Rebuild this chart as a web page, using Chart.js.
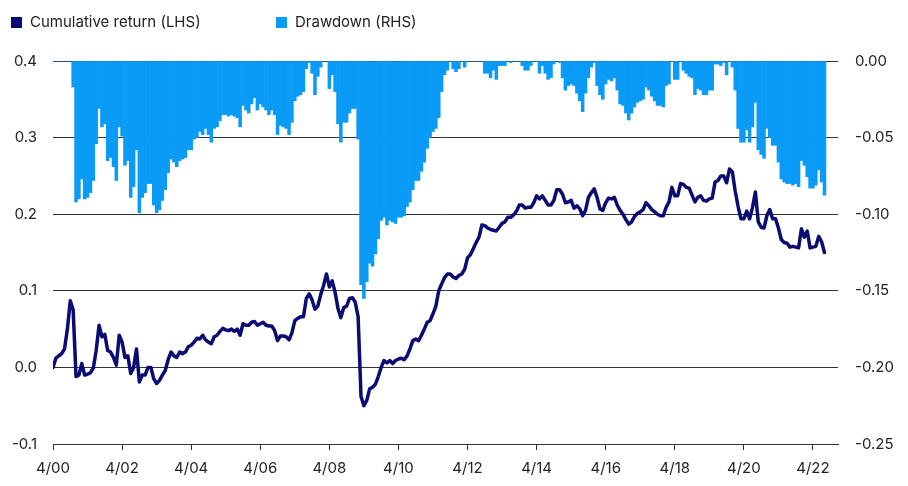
<!DOCTYPE html>
<html><head><meta charset="utf-8">
<script src="https://cdn.jsdelivr.net/npm/chart.js@4.4.1/dist/chart.umd.min.js"></script>
<style>
body{margin:0;background:#fff;}
#wrap{position:relative;width:908px;height:486px;}
#legend{position:absolute;left:0;top:0;width:908px;height:40px;font-family:Inter, "Open Sans", sans-serif;font-size:15px;color:#222;}
.item{position:absolute;top:13px;height:18px;line-height:18px;display:flex;align-items:center;white-space:nowrap;}
.sw{width:11px;height:11px;margin-right:8px;}
</style></head>
<body><div id="wrap"><canvas id="c" width="908" height="486"></canvas><div id="legend"></div></div>
<script>
const seriesNames = ['Cumulative return (LHS)', 'Drawdown (RHS)'];
const seriesColors = ['#0a0c72', '#0a9bf7'];
const xTickLabels = ['4/00','4/02','4/04','4/06','4/08','4/10','4/12','4/14','4/16','4/18','4/20','4/22'];
const leftTicks = [-0.1, 0, 0.1, 0.2, 0.3, 0.4];
const rightTicks = [-0.25, -0.2, -0.15, -0.1, -0.05, 0];

// monthly, April 2000 onwards
const cumReturn = [
 0.000,0.012,0.015,0.018,0.024,0.050,0.087,0.075,-0.012,-0.010,
 0.005,-0.010,-0.009,-0.007,-0.001,0.022,0.055,0.040,0.043,0.022,
 0.020,0.013,0.003,0.042,0.033,0.013,0.015,-0.008,0.000,0.024,
 -0.019,-0.010,-0.010,0.000,0.000,-0.015,-0.021,-0.017,-0.010,-0.004,
 0.010,0.020,0.015,0.013,0.020,0.018,0.020,0.027,0.029,0.033,
 0.038,0.037,0.042,0.036,0.033,0.031,0.040,0.042,0.047,0.051,
 0.049,0.048,0.050,0.047,0.050,0.042,0.057,0.055,0.055,0.059,
 0.060,0.055,0.057,0.059,0.055,0.054,0.054,0.048,0.035,0.041,
 0.041,0.040,0.036,0.045,0.061,0.064,0.066,0.066,0.090,0.096,
 0.088,0.076,0.080,0.095,0.107,0.122,0.105,0.113,0.098,0.077,
 0.065,0.078,0.080,0.090,0.091,0.085,0.066,-0.038,-0.050,-0.043,
 -0.028,-0.026,-0.022,-0.012,0.000,0.009,0.006,0.009,0.005,0.009,
 0.011,0.012,0.010,0.015,0.024,0.035,0.037,0.035,0.042,0.050,
 0.059,0.061,0.070,0.080,0.100,0.109,0.117,0.122,0.122,0.118,
 0.116,0.120,0.122,0.128,0.143,0.147,0.155,0.163,0.170,0.186,
 0.185,0.182,0.180,0.179,0.178,0.183,0.188,0.190,0.196,0.196,
 0.199,0.204,0.212,0.212,0.208,0.209,0.209,0.215,0.224,0.220,
 0.224,0.218,0.212,0.212,0.218,0.232,0.232,0.226,0.215,0.216,
 0.218,0.208,0.211,0.207,0.198,0.205,0.222,0.228,0.233,0.222,
 0.207,0.205,0.215,0.221,0.220,0.222,0.212,0.205,0.200,0.193,
 0.187,0.190,0.197,0.201,0.203,0.206,0.215,0.211,0.206,0.203,
 0.200,0.198,0.198,0.209,0.216,0.235,0.224,0.224,0.240,0.239,
 0.235,0.234,0.225,0.216,0.222,0.224,0.218,0.217,0.220,0.221,
 0.242,0.244,0.250,0.250,0.241,0.259,0.255,0.230,0.210,0.194,
 0.194,0.204,0.194,0.209,0.229,0.190,0.183,0.182,0.198,0.206,
 0.194,0.194,0.182,0.167,0.163,0.162,0.157,0.158,0.157,0.156,
 0.181,0.170,0.178,0.156,0.157,0.158,0.171,0.164,0.150
];

const drawdown = [
 0,0,0,0,0,0,0,-0.017,-0.092,-0.090,
 -0.077,-0.090,-0.089,-0.086,-0.078,-0.054,-0.031,-0.043,-0.041,-0.065,
 -0.063,-0.069,-0.078,-0.043,-0.049,-0.068,-0.065,-0.089,-0.082,-0.058,
 -0.099,-0.089,-0.086,-0.080,-0.080,-0.094,-0.099,-0.097,-0.091,-0.084,
 -0.073,-0.064,-0.066,-0.069,-0.065,-0.064,-0.063,-0.058,-0.058,-0.051,
 -0.050,-0.046,-0.048,-0.044,-0.048,-0.053,-0.044,-0.043,-0.039,-0.035,
 -0.035,-0.036,-0.035,-0.036,-0.037,-0.043,-0.029,-0.032,-0.034,-0.028,
 -0.024,-0.032,-0.028,-0.030,-0.032,-0.035,-0.032,-0.035,-0.048,-0.042,
 -0.043,-0.044,-0.048,-0.040,-0.026,-0.023,-0.022,-0.020,-0.005,-0.001,
 -0.008,-0.022,-0.010,-0.004,0,0,-0.018,-0.009,-0.020,-0.041,
 -0.053,-0.040,-0.040,-0.034,-0.031,-0.031,-0.051,-0.146,-0.155,-0.144,
 -0.132,-0.134,-0.126,-0.116,-0.104,-0.102,-0.107,-0.104,-0.105,-0.106,
 -0.102,-0.102,-0.101,-0.095,-0.092,-0.084,-0.078,-0.078,-0.072,-0.066,
 -0.057,-0.050,-0.046,-0.044,-0.037,-0.020,-0.009,-0.006,0,-0.005,
 -0.007,-0.005,0,-0.004,0,0,0,0,0,0,
 -0.008,-0.008,-0.011,-0.006,-0.012,-0.003,-0.003,-0.003,0,-0.001,
 0,0,0,-0.003,-0.006,-0.006,-0.003,0,0,-0.008,
 -0.003,-0.008,-0.012,-0.011,-0.002,0,-0.001,-0.011,-0.019,-0.016,
 -0.015,-0.016,-0.021,-0.026,-0.033,-0.021,-0.011,-0.004,-0.001,-0.016,
 -0.022,-0.025,-0.015,-0.012,-0.013,-0.011,-0.019,-0.028,-0.029,-0.034,
 -0.0385,-0.034,-0.030,-0.027,-0.026,-0.025,-0.017,-0.019,-0.023,-0.026,
 -0.029,-0.029,-0.030,-0.016,-0.015,0,-0.012,-0.012,0,-0.006,
 -0.008,-0.010,-0.011,-0.022,-0.018,-0.019,-0.022,-0.022,-0.019,-0.019,
 -0.002,-0.002,-0.003,-0.001,-0.009,0,-0.004,-0.019,-0.044,-0.053,
 -0.053,-0.045,-0.053,-0.043,-0.027,-0.058,-0.061,-0.0635,-0.044,-0.050,
 -0.055,-0.055,-0.066,-0.077,-0.079,-0.080,-0.080,-0.081,-0.080,-0.082,
 -0.065,-0.068,-0.0755,-0.083,-0.083,-0.081,-0.071,-0.079,-0.0875
];

// legend (HTML)
const legendPos = [11, 276];
const lg = document.getElementById('legend');
seriesNames.forEach((n, i) => {
  const d = document.createElement('div');
  d.className = 'item';
  d.style.left = legendPos[i] + 'px';
  d.innerHTML = '<span class="sw" style="background:' + seriesColors[i] + '"></span><span>' + n + '</span>';
  lg.appendChild(d);
});

const tickFont = { family: 'Inter, "Open Sans", sans-serif', size: 15 };
const textColor = '#222';
const gridColor = '#333';

new Chart(document.getElementById('c'), {
  type: 'bar',
  data: {
    datasets: [
      {
        type: 'line',
        label: seriesNames[0],
        data: cumReturn.map((v, i) => ({ x: i, y: v })),
        yAxisID: 'y',
        borderColor: seriesColors[0],
        borderWidth: 3.5,
        pointRadius: 0,
        tension: 0,
        borderJoinStyle: 'round',
        borderCapStyle: 'round',
        order: 0
      },
      {
        type: 'bar',
        label: seriesNames[1],
        data: drawdown.map((v, i) => ({ x: i, y: v })),
        yAxisID: 'y1',
        backgroundColor: seriesColors[1],
        barPercentage: 1,
        categoryPercentage: 1,
        borderWidth: 0,
        order: 1
      }
    ]
  },
  options: {
    responsive: false,
    animation: false,
    devicePixelRatio: 1,
    layout: { padding: { top: 61, left: 0, right: 0, bottom: 0 } },
    plugins: { legend: { display: false }, tooltip: { enabled: false } },
    scales: {
      x: {
        type: 'linear',
        offset: false,
        min: 0,
        max: 272.7,
        afterBuildTicks: s => { s.ticks = xTickLabels.map((_, i) => ({ value: i * 24 })); },
        ticks: {
          callback: v => xTickLabels[Math.round(v / 24)],
          maxRotation: 0, autoSkip: false, padding: 9,
          color: textColor, font: tickFont
        },
        grid: { offset: false, drawOnChartArea: false, drawTicks: true, tickLength: 6, color: gridColor },
        border: { display: true, color: gridColor, width: 1 },
        afterFit: s => { s.height = 42; }
      },
      y: {
        position: 'left',
        min: -0.1, max: 0.4,
        afterBuildTicks: s => { s.ticks = leftTicks.map(v => ({ value: v })); },
        ticks: { callback: v => v.toFixed(1), padding: 16, color: textColor, font: tickFont },
        grid: { color: gridColor, drawTicks: false, lineWidth: 1 },
        border: { display: false },
        afterFit: s => { s.width = 53; }
      },
      y1: {
        position: 'right',
        min: -0.25, max: 0,
        afterBuildTicks: s => { s.ticks = rightTicks.map(v => ({ value: v })); },
        ticks: { callback: v => v.toFixed(2), padding: 17, color: textColor, font: tickFont },
        grid: { drawOnChartArea: false, drawTicks: false },
        border: { display: false },
        afterFit: s => { s.width = 70; }
      }
    }
  }
});
</script>
</body></html>
